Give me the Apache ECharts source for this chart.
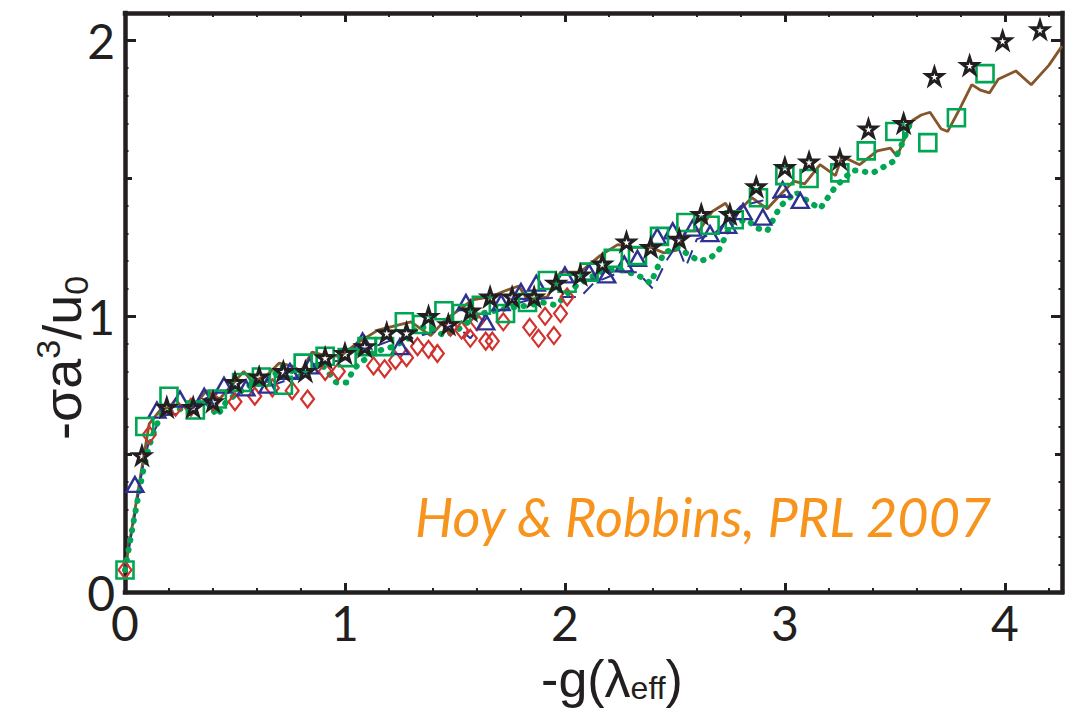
<!DOCTYPE html>
<html>
<head>
<meta charset="utf-8">
<script src="https://cdn.jsdelivr.net/npm/echarts@6/dist/echarts.min.js"></script>
<style>
html,body{margin:0;padding:0;background:#fff;}
#chart{width:1077px;height:710px;}
</style>
</head>
<body>
<div id="chart"></div>
<script>
// ---- data (x = -g(lambda_eff), y = -sigma a^3/u0) ----
const xTickLabels = [0, 1, 2, 3, 4];
const yTickLabels = [0, 1, 2];

const brownLine = [[0,0.08],[0.11,0.61],[0.16,0.66],[0.24,0.68],[0.31,0.67],[0.37,0.73],[0.43,0.70],[0.54,0.80],[0.58,0.76],[0.65,0.79],[0.70,0.83],[0.76,0.82],[0.80,0.80],[0.85,0.87],[0.90,0.86],[0.98,0.855],[1.05,0.90],[1.15,0.95],[1.20,0.96],[1.30,0.98],[1.39,0.93],[1.46,0.99],[1.53,1.03],[1.58,1.06],[1.66,1.07],[1.72,1.09],[1.79,1.11],[1.83,1.06],[1.92,1.07],[1.98,1.16],[2.07,1.16],[2.16,1.22],[2.24,1.26],[2.31,1.25],[2.39,1.25],[2.45,1.23],[2.51,1.24],[2.55,1.31],[2.61,1.31],[2.67,1.38],[2.73,1.41],[2.76,1.37],[2.80,1.39],[2.85,1.43],[2.92,1.39],[2.99,1.45],[3.04,1.49],[3.09,1.48],[3.16,1.55],[3.23,1.51],[3.26,1.58],[3.34,1.55],[3.42,1.60],[3.48,1.61],[3.51,1.58],[3.58,1.71],[3.62,1.73],[3.66,1.74],[3.71,1.68],[3.74,1.67],[3.80,1.76],[3.85,1.84],[3.89,1.82],[3.93,1.81],[3.97,1.86],[4.05,1.89],[4.12,1.84],[4.20,1.91],[4.26,1.98]];

const greenDotted = [[0,0.08],[0.04,0.26],[0.08,0.43],[0.11,0.53],[0.14,0.60],[0.17,0.65],[0.24,0.66],[0.30,0.68],[0.37,0.69],[0.42,0.64],[0.46,0.69],[0.51,0.72],[0.57,0.75],[0.64,0.76],[0.72,0.82],[0.80,0.78],[0.89,0.83],[0.96,0.76],[1.01,0.76],[1.04,0.81],[1.13,0.87],[1.22,0.89],[1.29,0.92],[1.33,0.96],[1.39,0.96],[1.45,0.93],[1.51,0.95],[1.58,0.99],[1.62,1.01],[1.74,1.03],[1.84,1.04],[1.90,1.05],[1.96,1.04],[2.05,1.11],[2.16,1.16],[2.24,1.17],[2.33,1.15],[2.39,1.12],[2.45,1.23],[2.51,1.25],[2.55,1.23],[2.61,1.20],[2.66,1.21],[2.70,1.24],[2.76,1.34],[2.83,1.35],[2.87,1.32],[2.92,1.31],[2.98,1.40],[3.05,1.45],[3.10,1.42],[3.16,1.39],[3.23,1.47],[3.31,1.53],[3.40,1.52],[3.49,1.56],[3.52,1.60],[3.58,1.72]];

const blueDashed = [[0,0.08],[0.05,0.30],[0.08,0.45],[0.11,0.55],[0.17,0.64],[0.28,0.65],[0.36,0.70],[0.45,0.73],[0.57,0.75],[0.67,0.75],[0.78,0.78],[0.87,0.83],[0.99,0.84],[1.10,0.88],[1.20,0.91],[1.30,0.92],[1.43,0.95],[1.50,0.97],[1.57,0.92],[1.65,1.00],[1.75,1.04],[1.84,1.06],[1.99,1.07],[2.07,1.07],[2.13,1.12],[2.25,1.16],[2.33,1.16],[2.40,1.10],[2.46,1.20],[2.51,1.26],[2.55,1.18],[2.60,1.28],[2.68,1.30],[2.80,1.40],[2.95,1.43],[3.05,1.45]];

const redDiamonds = [[0,0.08],[0.11,0.57],[0.23,0.67],[0.30,0.67],[0.40,0.69],[0.50,0.69],[0.59,0.71],[0.67,0.74],[0.76,0.73],[0.83,0.70],[0.91,0.80],[0.97,0.80],[1.13,0.82],[1.18,0.81],[1.23,0.84],[1.28,0.85],[1.33,0.89],[1.38,0.88],[1.42,0.865],[1.48,0.96],[1.53,0.95],[1.57,0.92],[1.60,0.98],[1.64,0.91],[1.67,0.91],[1.72,0.98],[1.84,0.96],[1.88,0.92],[1.91,1.00],[1.95,0.93],[1.98,1.01],[2.01,1.07]];

const blueTriangles = [[0.045,0.39],[0.145,0.66],[0.25,0.70],[0.36,0.71],[0.45,0.75],[0.55,0.74],[0.65,0.75],[0.75,0.80],[0.84,0.82],[1.08,0.91],[1.25,0.89],[1.55,1.05],[1.64,0.98],[1.71,1.05],[1.80,1.09],[1.87,1.12],[2.00,1.15],[2.11,1.16],[2.19,1.15],[2.27,1.19],[2.33,1.21],[2.42,1.29],[2.49,1.31],[2.58,1.32],[2.66,1.30],[2.74,1.33],[2.81,1.38],[2.90,1.36],[2.99,1.46],[3.07,1.42]];

const greenSquares = [[0,0.08],[0.09,0.60],[0.20,0.71],[0.32,0.66],[0.42,0.70],[0.53,0.76],[0.62,0.78],[0.72,0.75],[0.81,0.83],[0.91,0.855],[1.01,0.85],[1.10,0.89],[1.18,0.89],[1.27,0.98],[1.35,0.97],[1.45,1.02],[1.53,1.01],[1.62,1.04],[1.73,1.01],[1.83,1.05],[1.92,1.13],[2.01,1.12],[2.11,1.16],[2.22,1.21],[2.33,1.22],[2.43,1.29],[2.55,1.34],[2.66,1.33],[2.77,1.35],[2.88,1.43],[3.00,1.51],[3.11,1.50],[3.25,1.52],[3.37,1.60],[3.50,1.67],[3.65,1.63],[3.78,1.72],[3.91,1.88]];

const blackStars = [[0.077,0.495],[0.19,0.67],[0.31,0.67],[0.40,0.69],[0.50,0.76],[0.61,0.78],[0.72,0.80],[0.82,0.80],[0.91,0.85],[1.00,0.865],[1.09,0.89],[1.19,0.94],[1.28,0.94],[1.38,1.00],[1.47,0.97],[1.57,1.02],[1.66,1.07],[1.76,1.07],[1.86,1.07],[1.96,1.12],[2.07,1.15],[2.17,1.19],[2.28,1.27],[2.39,1.25],[2.52,1.28],[2.62,1.37],[2.75,1.37],[2.87,1.47],[3.00,1.54],[3.11,1.56],[3.25,1.57],[3.38,1.68],[3.54,1.70],[3.68,1.87],[3.84,1.91],[3.99,2.00],[4.16,2.04]];

// ---- style ----
const INK = '#231f20';
const XMIN = 0, XMAX = 4.26, YMIN = 0, YMAX = 2.1;
const STAR = 'path://M50,0 L61.8,35.5 L99,35.5 L69,57.5 L80.5,93 L50,71 L19.5,93 L31,57.5 L1,35.5 L38.2,35.5 Z';
const TITLE_FONT = "'Liberation Sans Narrow', 'Liberation Sans', sans-serif";

function xAx(pos, interval, tickLen, showLine, showLabel) {
  return {
    type: 'value', position: pos, min: XMIN, max: XMAX, interval: interval,
    axisLine: {show: showLine, onZero: false, lineStyle: {color: INK, width: 4.5, cap: 'square'}},
    axisTick: {show: true, inside: true, length: tickLen, lineStyle: {color: INK, width: tickLen > 5 ? 3 : 2}},
    axisLabel: {show: showLabel, margin: 6, fontSize: 48, color: INK, fontFamily: 'Lato',
      formatter: v => (xTickLabels.indexOf(Math.round(v * 1000) / 1000) >= 0 ? String(v) : '')},
    splitLine: {show: false}
  };
}
function yAx(pos, interval, tickLen, showLine, showLabel) {
  return {
    type: 'value', position: pos, min: YMIN, max: YMAX, interval: interval,
    axisLine: {show: showLine, onZero: false, lineStyle: {color: INK, width: 4.5, cap: 'square'}},
    axisTick: {show: true, inside: true, length: tickLen, lineStyle: {color: INK, width: tickLen > 5 ? 3 : 2}},
    axisLabel: {show: showLabel, margin: 10, fontSize: 48, color: INK, fontFamily: 'Lato',
      formatter: v => (yTickLabels.indexOf(Math.round(v * 1000) / 1000) >= 0 ? String(v) : '')},
    splitLine: {show: false}
  };
}
function hollow(color, bw) {
  return {color: 'rgba(255,255,255,0)', borderColor: color, borderWidth: bw, opacity: 1};
}

const chart = echarts.init(document.getElementById('chart'), null, {renderer: 'svg'});
chart.setOption({
  animation: false,
  backgroundColor: '#fff',
  grid: {left: 125, top: 13, right: 15, bottom: 118, containLabel: false},
  xAxis: [
    xAx('bottom', 1, 9, true, true),
    xAx('bottom', 0.2, 4, false, false),
    xAx('top', 1, 9, true, false),
    xAx('top', 0.2, 4, false, false)
  ],
  yAxis: [
    yAx('left', 1, 11, true, true),
    yAx('left', 0.5, 7, false, false),
    yAx('left', 0.1, 3.5, false, false),
    yAx('right', 1, 11, true, false),
    yAx('right', 0.5, 7, false, false),
    yAx('right', 0.1, 3.5, false, false)
  ],
  series: [
    {type: 'line', data: brownLine, showSymbol: false, symbol: 'none',
      lineStyle: {color: '#85562a', width: 2.8}, z: 2},
    {type: 'line', data: blueDashed, showSymbol: false, symbol: 'none',
      lineStyle: {color: '#2e3192', width: 2, type: [14, 9]}, z: 2},
    {type: 'line', data: greenDotted, showSymbol: false, symbol: 'none',
      lineStyle: {color: '#00a651', width: 6, type: [0.5, 9.5], cap: 'round'}, z: 3},
    {type: 'scatter', data: redDiamonds, symbol: 'diamond', symbolSize: [13, 17],
      itemStyle: hollow('#d2322d', 2.2), z: 4},
    {type: 'scatter', data: blueTriangles, symbol: 'triangle', symbolSize: [17, 15],
      itemStyle: hollow('#2e3192', 2.4), z: 5},
    {type: 'scatter', data: greenSquares, symbol: 'rect', symbolSize: 17,
      itemStyle: hollow('#00a651', 2.6), z: 6},
    {type: 'scatter', data: blackStars, symbol: STAR, symbolSize: 16,
      itemStyle: hollow(INK, 3), z: 7}
  ],
  graphic: [
    {type: 'text', x: 62, y: 358, rotation: Math.PI / 2, z: 10,
      style: {text: '-σa{sup|3}/u{sub|0}', fill: INK, fontSize: 54, lineHeight: 62,
        fontFamily: TITLE_FONT, align: 'center', verticalAlign: 'middle',
        rich: {
          sup: {fontSize: 34, lineHeight: 34, verticalAlign: 'top', fill: INK, fontFamily: TITLE_FONT},
          sub: {fontSize: 34, lineHeight: 34, verticalAlign: 'bottom', fill: INK, fontFamily: TITLE_FONT}
        }}},
    {type: 'text', x: 612, y: 679, z: 10,
      style: {text: '-g(λ{sub|eff})', fill: INK, fontSize: 52, lineHeight: 50,
        fontFamily: TITLE_FONT, align: 'center', verticalAlign: 'middle',
        rich: {
          sub: {fontSize: 32, lineHeight: 28, verticalAlign: 'bottom', fill: INK, fontFamily: TITLE_FONT}
        }}},
    {type: 'text', x: 415, y: 516, z: 10,
      style: {text: 'Hoy & Robbins, PRL 2007', fill: '#f7941d', fontSize: 54, fontStyle: 'italic',
        fontFamily: 'Lato', align: 'left', verticalAlign: 'middle'}}
  ]
});
</script>
</body>
</html>
